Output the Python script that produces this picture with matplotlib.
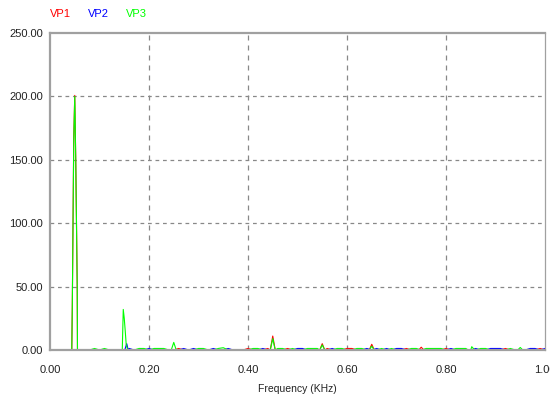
import numpy as np
import matplotlib
matplotlib.use("Agg")
import matplotlib.pyplot as plt

plt.rcParams['font.family'] = ['Liberation Sans', 'DejaVu Sans']

# --- data (frequency in KHz, amplitude) ---
freq_grid = [round(i * 0.01, 2) for i in range(101)]

# low-level noise along the baseline, one value per 0.01 KHz
vp1_base = [0, 0, 0, 0, 0, 0, 0, 0, 0, 0,
            0, 0, 0, 0, 0, 0, 0, 0, 0, 0,
            0, 0, 0, 0, 0, 0, 1.2, 0, 0, 0,
            0, 0, 0, 0, 0, 0, 0, 0, 0, 0,
            1.2, 0, 0, 0, 1.2, 0, 0, 0, 1.2, 0,
            0, 0, 0, 0, 0, 0, 1.2, 0, 0, 0,
            1.2, 1.2, 0, 0, 0, 0, 0, 0, 0, 0,
            0, 0, 1.2, 0, 0, 0, 0, 0, 0, 0,
            1.2, 0, 0, 0, 0, 0, 0, 0, 0, 0,
            0, 0, 1.2, 0, 0, 0, 0, 0, 0, 1.2,
            0]
vp2_base = [0, 0, 0, 0, 0, 0, 0, 0, 0, 0,
            0, 0, 0, 0, 0, 0, 1.2, 0, 0, 0,
            1.2, 0, 0, 0, 0, 0, 0, 1.2, 0, 1.2,
            0, 0, 0, 1.2, 0, 0, 1.2, 0, 0, 0,
            0, 0, 0, 1.2, 0, 0, 0, 0, 0, 0,
            1.2, 1.2, 0, 0, 0, 0, 0, 1.2, 0, 0,
            0, 0, 0, 0, 1.2, 0, 1.2, 0, 1.2, 0,
            1.2, 1.2, 0, 0, 0, 0, 0, 0, 0, 0,
            0, 1.2, 0, 0, 0, 0, 1.2, 0, 0, 1.2,
            1.2, 1.2, 0, 0, 0, 0, 0, 1.2, 1.2, 0,
            1.2]
vp3_base = [0, 0, 0, 0, 0, 0, 0, 0, 0, 1.2,
            0, 1.2, 0, 0, 0, 0, 0, 0, 1.2, 1.2,
            0, 1.2, 1.2, 1.2, 0, 0, 0, 0, 0, 0,
            1.2, 1.2, 0, 0, 1.2, 1.8, 0, 0, 0, 0,
            0, 1.2, 1.2, 0, 0, 0, 1.2, 1.2, 0, 1.2,
            0, 0, 1.2, 1.2, 1.2, 0, 0, 0, 1.2, 1.2,
            0, 0, 1.2, 1.2, 0, 0, 0, 1.2, 0, 1.2,
            0, 0, 0, 1.2, 1.2, 0, 1.2, 1.2, 1.2, 1.2,
            0, 0, 1.2, 1.2, 1.2, 0, 0, 1.2, 1.2, 0,
            0, 0, 0, 1.2, 0, 0, 0, 0, 0, 0,
            0]

# harmonic peaks
vp1_peak_f = [0.044, 0.045, 0.048, 0.050, 0.052, 0.055, 0.0555,
              0.445, 0.450, 0.455, 0.545, 0.550, 0.555,
              0.645, 0.650, 0.655, 0.745, 0.750, 0.755]
vp1_peak_v = [0, 32, 168, 200.8, 150.5, 50, 0,
              0, 11, 0, 0, 5, 0,
              0, 4.5, 0, 0, 2.2, 0]
vp2_peak_f = [0.151, 0.155, 0.158]
vp2_peak_v = [0, 5, 0]
vp3_peak_f = [0.044, 0.045, 0.048, 0.050, 0.052, 0.055, 0.0555,
              0.146, 0.148, 0.150, 0.152, 0.154, 0.157,
              0.245, 0.250, 0.255, 0.445, 0.450, 0.455,
              0.545, 0.550, 0.555, 0.645, 0.650, 0.655,
              0.845, 0.852, 0.858, 0.945, 0.950, 0.955]
vp3_peak_v = [0, 32, 167, 200, 150, 50, 0,
              0, 32, 25, 15, 4, 0,
              0, 6, 0, 0, 9, 0,
              0, 4, 0, 0, 3, 0,
              0, 2.6, 0, 0, 2, 0]

series_names = ['VP1', 'VP2', 'VP3']
series_colors = ['#ff0000', '#0000ff', '#00ff00']

x_ticks = [0.0, 0.2, 0.4, 0.6, 0.8, 1.0]
y_ticks = [0, 50, 100, 150, 200, 250]


def merge(base, peak_f, peak_v):
    pts = {f: v for f, v in zip(freq_grid, base)}
    for f, v in zip(peak_f, peak_v):
        pts[round(f, 4)] = v
    fs = sorted(pts)
    return np.array(fs), np.array([pts[f] for f in fs])


fig = plt.figure(figsize=(5.5, 4.05), dpi=100)
ax = fig.add_axes([50 / 550, 1 - 350 / 405, 495 / 550, 317 / 405])

series = [(vp1_base, vp1_peak_f, vp1_peak_v),
          (vp2_base, vp2_peak_f, vp2_peak_v),
          (vp3_base, vp3_peak_f, vp3_peak_v)]
for (b, pf, pv), c in zip(series, series_colors):
    f, v = merge(b, pf, pv)
    ax.plot(f, v, color=c, lw=0.8, zorder=2)

ax.set_xlim(0, 1)
ax.set_ylim(0, 250)
ax.set_xticks(x_ticks)
ax.set_xticklabels([f'{t:.2f}' for t in x_ticks])
ax.set_yticks(y_ticks)
ax.set_yticklabels([f'{t:.2f}' for t in y_ticks])
ax.tick_params(length=0, labelsize=8, labelcolor='#222222')
ax.tick_params(axis='x', pad=11)
ax.tick_params(axis='y', pad=5)

for y in y_ticks[1:-1]:
    ax.axhline(y, color='#888888', lw=0.9, ls=(0, (3, 3)), zorder=1)
for x in x_ticks[1:-1]:
    ax.axvline(x, color='#888888', lw=0.9, ls=(0, (4, 4)), zorder=1)

for side in ['left', 'top', 'bottom']:
    ax.spines[side].set_color('#a0a0a0')
    ax.spines[side].set_linewidth(1.6)
ax.spines['right'].set_color('#a0a0a0')
ax.spines['right'].set_linewidth(0.9)

ax.set_xlabel('Frequency (KHz)', fontsize=7.5, color='#222222', labelpad=6)

# legend text at the top left
for name, c, xp in zip(series_names, series_colors, [50, 88, 126]):
    fig.text(xp / 550, 1 - 14 / 405, name, color=c, fontsize=8, va='center', ha='left')

fig.savefig('out.png', dpi=100)
